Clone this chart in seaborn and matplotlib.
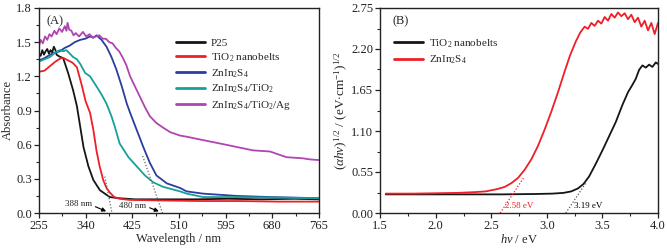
import numpy as np
import pandas as pd
import matplotlib
matplotlib.use("Agg")
import matplotlib.pyplot as plt
import seaborn as sns
from matplotlib.ticker import MultipleLocator, FormatStrFormatter

# ---------------- Panel A data (UV-vis absorbance) ----------------
series_a = ["P25", "TiO$_2$ nanobelts", "ZnIn$_2$S$_4$", "ZnIn$_2$S$_4$/TiO$_2$", "ZnIn$_2$S$_4$/TiO$_2$/Ag"]
colors_a = ["#151515", "#ee1f26", "#2b3d9e", "#16a09a", "#b045b0"]

p25_wl = [255, 258, 261, 264, 267, 270, 273, 276, 279, 282, 285, 287, 290, 294, 299, 308, 317, 324, 330, 336, 345, 354, 366, 384, 400, 430, 480, 540, 600, 660, 720, 765]
p25_abs = [1.40, 1.38, 1.43, 1.39, 1.42, 1.44, 1.40, 1.43, 1.41, 1.46, 1.43, 1.39, 1.38, 1.37, 1.36, 1.23, 1.08, 0.94, 0.76, 0.58, 0.41, 0.29, 0.20, 0.14, 0.13, 0.12, 0.12, 0.12, 0.125, 0.12, 0.125, 0.12]

tio2_wl = [255, 265, 275, 285, 295, 300, 308, 316, 324, 333, 340, 348, 354, 360, 366, 372, 378, 384, 392, 402, 420, 480, 550, 620, 690, 765]
tio2_abs = [1.24, 1.25, 1.29, 1.33, 1.36, 1.36, 1.34, 1.32, 1.28, 1.12, 0.98, 0.88, 0.73, 0.54, 0.40, 0.29, 0.22, 0.18, 0.14, 0.125, 0.115, 0.11, 0.105, 0.105, 0.10, 0.10]

zis_wl = [255, 265, 275, 285, 293, 302, 311, 320, 330, 339, 348, 354, 360, 369, 378, 387, 396, 406, 415, 421, 433, 445, 457, 469, 488, 512, 524, 554, 615, 676, 765]
zis_abs = [1.34, 1.36, 1.39, 1.41, 1.42, 1.45, 1.47, 1.50, 1.52, 1.53, 1.55, 1.54, 1.56, 1.52, 1.46, 1.37, 1.26, 1.11, 0.96, 0.88, 0.73, 0.58, 0.44, 0.33, 0.26, 0.22, 0.19, 0.17, 0.15, 0.14, 0.13]

zt_wl = [255, 265, 275, 285, 293, 299, 305, 311, 317, 324, 330, 339, 348, 360, 369, 378, 387, 393, 402, 418, 433, 448, 463, 481, 512, 524, 554, 615, 765]
zt_abs = [1.33, 1.35, 1.37, 1.41, 1.43, 1.42, 1.43, 1.40, 1.37, 1.35, 1.31, 1.23, 1.20, 1.11, 1.04, 0.96, 0.85, 0.76, 0.61, 0.49, 0.41, 0.33, 0.27, 0.23, 0.19, 0.17, 0.14, 0.14, 0.13]

zta_wl = [255, 258, 262, 266, 270, 274, 278, 283, 287, 292, 297, 302, 305, 307, 310, 314, 318, 322, 328, 335, 341, 347, 353, 359, 365, 371, 377, 383, 389, 395, 401, 407, 414, 421, 430, 439, 448, 457, 469, 481, 494, 512, 524, 554, 585, 615, 645, 676, 706, 736, 750, 765]
zta_abs = [1.47, 1.52, 1.49, 1.55, 1.52, 1.57, 1.55, 1.60, 1.57, 1.62, 1.59, 1.64, 1.60, 1.67, 1.61, 1.60, 1.56, 1.58, 1.55, 1.59, 1.55, 1.57, 1.54, 1.55, 1.56, 1.53, 1.53, 1.50, 1.49, 1.45, 1.42, 1.37, 1.30, 1.20, 1.11, 1.02, 0.93, 0.85, 0.79, 0.75, 0.71, 0.68, 0.67, 0.64, 0.61, 0.58, 0.55, 0.54, 0.49, 0.48, 0.47, 0.465]

wl_a = [p25_wl, tio2_wl, zis_wl, zt_wl, zta_wl]
abs_a = [p25_abs, tio2_abs, zis_abs, zt_abs, zta_abs]

# tangent (extrapolation) lines, panel A
tan1_wl = [375, 388]
tan1_abs = [0.32, 0.0]
tan2_wl = [444, 480]
tan2_abs = [0.50, 0.0]

# ---------------- Panel B data (Tauc plot) ----------------
series_b = ["TiO$_2$ nanobelts", "ZnIn$_2$S$_4$"]
colors_b = ["#151515", "#ee1f26"]

tio2_e = [1.55, 1.8, 2.0, 2.3, 2.6, 2.9, 3.05, 3.15, 3.22, 3.28, 3.33, 3.38, 3.44, 3.50, 3.56, 3.62, 3.68, 3.73, 3.77, 3.80, 3.83, 3.86, 3.89, 3.92, 3.95, 3.98, 4.0]
tio2_tauc = [0.25, 0.25, 0.25, 0.25, 0.25, 0.255, 0.26, 0.27, 0.29, 0.33, 0.39, 0.49, 0.66, 0.84, 1.03, 1.22, 1.45, 1.62, 1.72, 1.80, 1.92, 1.98, 1.95, 1.99, 1.96, 2.02, 2.00]

zis_e = [1.55, 1.8, 2.0, 2.2, 2.35, 2.45, 2.55, 2.62, 2.68, 2.74, 2.80, 2.86, 2.92, 2.98, 3.04, 3.10, 3.16, 3.21, 3.26, 3.30, 3.34, 3.37, 3.40, 3.43, 3.46, 3.49, 3.52, 3.55, 3.58, 3.61, 3.64, 3.67, 3.70, 3.73, 3.76, 3.79, 3.82, 3.85, 3.88, 3.91, 3.94, 3.97, 4.0]
zis_tauc = [0.26, 0.26, 0.265, 0.27, 0.28, 0.29, 0.32, 0.35, 0.40, 0.47, 0.58, 0.72, 0.90, 1.12, 1.36, 1.62, 1.90, 2.12, 2.30, 2.42, 2.50, 2.47, 2.55, 2.51, 2.58, 2.54, 2.63, 2.58, 2.67, 2.62, 2.69, 2.64, 2.68, 2.60, 2.66, 2.56, 2.62, 2.50, 2.58, 2.45, 2.55, 2.40, 2.55]

e_b = [tio2_e, zis_e]
tauc_b = [tio2_tauc, zis_tauc]

tanr_e = [2.58, 2.79]
tanr_y = [0.0, 0.47]
tank_e = [3.17, 3.35]
tank_y = [0.0, 0.40]

# ---------------- Styling ----------------
sns.set_theme(style="ticks")
plt.rcParams["font.family"] = ["Liberation Serif", "DejaVu Serif"]
plt.rcParams["mathtext.fontset"] = "custom"
plt.rcParams["mathtext.rm"] = "Liberation Serif"
plt.rcParams["mathtext.it"] = "Liberation Serif:italic"
plt.rcParams["mathtext.bf"] = "Liberation Serif:bold"
FS = 9
LFS = 8

fig = plt.figure(figsize=(6.67, 2.5), dpi=100)
axA = fig.add_axes([0.0585, 0.148, 0.4195, 0.82])
axB = fig.add_axes([0.570, 0.148, 0.4165, 0.82])

frames = []
for name, x, y in zip(series_a, wl_a, abs_a):
    frames.append(pd.DataFrame({"wl": x, "absorb": y, "sample": name}))
dfA = pd.concat(frames, ignore_index=True)
sns.lineplot(data=dfA, x="wl", y="absorb", hue="sample", hue_order=series_a,
             palette=colors_a, linewidth=1.3, ax=axA, sort=False, estimator=None)

axA.plot(tan1_wl, tan1_abs, ls=(0, (1, 1.5)), color="#666666", lw=0.9)
axA.plot(tan2_wl, tan2_abs, ls=(0, (1, 1.5)), color="#666666", lw=0.9)

axA.set_xlim(255, 765)
axA.set_ylim(0, 1.8)
axA.xaxis.set_major_locator(MultipleLocator(85))
axA.xaxis.set_minor_locator(MultipleLocator(42.5))
axA.yaxis.set_major_locator(MultipleLocator(0.3))
axA.yaxis.set_minor_locator(MultipleLocator(0.15))
axA.yaxis.set_major_formatter(FormatStrFormatter("%.1f"))
axA.set_xlabel("Wavelength / nm", fontsize=FS, labelpad=1)
axA.set_ylabel("Absorbance", fontsize=FS, labelpad=2)
axA.text(0.025, 0.965, "(A)", transform=axA.transAxes, fontsize=FS, va="top", ha="left")

axA.annotate("", xy=(382, 0.005), xytext=(353, 0.065),
             arrowprops=dict(arrowstyle="-|>", color="black", lw=0.8, mutation_scale=6))
axA.text(352, 0.075, "388 nm", fontsize=6.5, ha="right", va="center")
axA.annotate("", xy=(478, 0.005), xytext=(452, 0.055),
             arrowprops=dict(arrowstyle="-|>", color="black", lw=0.8, mutation_scale=6))
axA.text(450, 0.06, "480 nm", fontsize=6.5, ha="right", va="center")

legA = axA.legend(loc="upper left", bbox_to_anchor=(0.475, 0.875), frameon=False,
                  fontsize=LFS, handlelength=2.6, handletextpad=0.5, labelspacing=0.3,
                  borderaxespad=0)
for ln in legA.get_lines():
    ln.set_linewidth(2.0)

frames = []
for name, x, y in zip(series_b, e_b, tauc_b):
    frames.append(pd.DataFrame({"energy": x, "tauc": y, "sample": name}))
dfB = pd.concat(frames, ignore_index=True)
sns.lineplot(data=dfB, x="energy", y="tauc", hue="sample", hue_order=series_b,
             palette=colors_b, linewidth=1.3, ax=axB, sort=False, estimator=None)

axB.plot(tanr_e, tanr_y, ls=(0, (1, 1.5)), color="#ee1f26", lw=0.9)
axB.plot(tank_e, tank_y, ls=(0, (1, 1.5)), color="#555555", lw=0.9)
axB.text(2.62, 0.1, "2.58 eV", fontsize=6.5, color="#ee1f26", ha="left", va="center")
axB.text(3.24, 0.1, "3.19 eV", fontsize=6.5, color="black", ha="left", va="center")

axB.set_xlim(1.5, 4.0)
axB.set_ylim(0, 2.75)
axB.xaxis.set_major_locator(MultipleLocator(0.5))
axB.xaxis.set_minor_locator(MultipleLocator(0.25))
axB.yaxis.set_major_locator(MultipleLocator(0.55))
axB.yaxis.set_minor_locator(MultipleLocator(0.275))
axB.xaxis.set_major_formatter(FormatStrFormatter("%.1f"))
axB.yaxis.set_major_formatter(FormatStrFormatter("%.2f"))
axB.set_xlabel(r"$\it{h\nu}$ / eV", fontsize=FS, labelpad=1)
axB.set_ylabel(r"$(\it{\alpha h\nu})^{1/2}$ / (eV$\cdot$cm$^{-1}$)$^{1/2}$", fontsize=9.5, labelpad=1)
axB.text(0.045, 0.965, "(B)", transform=axB.transAxes, fontsize=FS, va="top", ha="left")

legB = axB.legend(loc="upper left", bbox_to_anchor=(0.035, 0.88), frameon=False,
                  fontsize=LFS, handlelength=2.6, handletextpad=0.5, labelspacing=0.35,
                  borderaxespad=0)
for ln in legB.get_lines():
    ln.set_linewidth(2.0)

for ax in (axA, axB):
    for s in ax.spines.values():
        s.set_visible(True)
        s.set_linewidth(1.0)
        s.set_color("#222222")
    ax.tick_params(which="major", direction="out", length=3.5, width=0.9, labelsize=FS, pad=1.5, colors="#222222")
    ax.tick_params(which="minor", direction="out", length=2, width=0.8)
    ax.tick_params(axis="both", labelcolor="#222222")

fig.savefig("out.png", dpi=100)
